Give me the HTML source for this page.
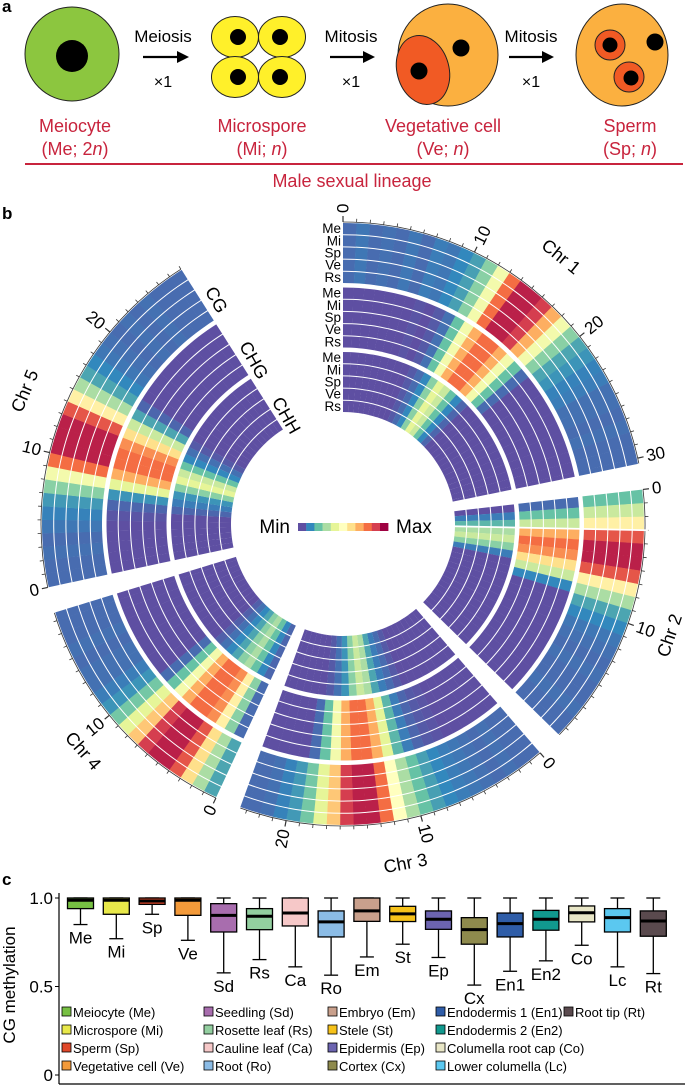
<!DOCTYPE html>
<html><head><meta charset="utf-8"><style>
body{margin:0;background:#fff;}
svg{display:block;font-family:"Liberation Sans","DejaVu Sans",sans-serif;}
</style></head><body>
<svg id="fig" width="685" height="1086" viewBox="0 0 685 1086" xmlns="http://www.w3.org/2000/svg">
<g>
<text x="2" y="12" font-size="17" font-weight="bold">a</text>
<ellipse cx="72" cy="54" rx="47" ry="47" fill="#8CC63F" stroke="#222" stroke-width="1"/>
<circle cx="72" cy="56" r="16" fill="#000"/>
<text x="163" y="42" font-size="17" text-anchor="middle">Meiosis</text>
<line x1="143" y1="57" x2="180" y2="57" stroke="#000" stroke-width="2.2"/><polygon points="189,57 177,51 177,63" fill="#000"/>
<text x="163" y="87" font-size="16" text-anchor="middle">×1</text>
<g>
<ellipse cx="235" cy="37" rx="23.5" ry="20.5" fill="#FFF02A" stroke="#222"/><ellipse cx="282" cy="37" rx="23.5" ry="20.5" fill="#FFF02A" stroke="#222"/>
<ellipse cx="235" cy="77" rx="23.5" ry="20.5" fill="#FFF02A" stroke="#222"/><ellipse cx="282" cy="77" rx="23.5" ry="20.5" fill="#FFF02A" stroke="#222"/>
<circle cx="238" cy="37" r="8" fill="#000"/><circle cx="280" cy="37" r="8" fill="#000"/><circle cx="238" cy="77" r="8" fill="#000"/><circle cx="280" cy="77" r="8" fill="#000"/>
</g>
<text x="351" y="42" font-size="17" text-anchor="middle">Mitosis</text>
<line x1="330" y1="57" x2="366" y2="57" stroke="#000" stroke-width="2.2"/><polygon points="375,57 363,51 363,63" fill="#000"/>
<text x="351" y="87" font-size="16" text-anchor="middle">×1</text>
<g>
<ellipse cx="448" cy="55" rx="50" ry="51" fill="#FBB040" stroke="#222"/>
<ellipse cx="423" cy="70" rx="26" ry="35" transform="rotate(-15 423 70)" fill="#F15A24" stroke="#222"/>
<circle cx="419" cy="71" r="8.5" fill="#000"/><circle cx="461" cy="48" r="8.5" fill="#000"/>
</g>
<text x="531" y="42" font-size="17" text-anchor="middle">Mitosis</text>
<line x1="509" y1="57" x2="545" y2="57" stroke="#000" stroke-width="2.2"/><polygon points="554,57 542,51 542,63" fill="#000"/>
<text x="531" y="87" font-size="16" text-anchor="middle">×1</text>
<g>
<ellipse cx="622" cy="55" rx="46" ry="51" fill="#FBB040" stroke="#222"/>
<circle cx="610" cy="45" r="15" fill="#F15A24" stroke="#222"/><circle cx="629" cy="77" r="15" fill="#F15A24" stroke="#222"/>
<circle cx="610" cy="45" r="7.5" fill="#000"/><circle cx="631" cy="78" r="7.5" fill="#000"/><circle cx="655" cy="42" r="8.5" fill="#000"/>
</g>
<g fill="#C8243D" font-size="18" text-anchor="middle">
<text x="75" y="132">Meiocyte</text><text x="75" y="155">(Me; 2<tspan font-style="italic">n</tspan>)</text>
<text x="262" y="132">Microspore</text><text x="262" y="155">(Mi; <tspan font-style="italic">n</tspan>)</text>
<text x="443" y="132">Vegetative cell</text><text x="443" y="155">(Ve; <tspan font-style="italic">n</tspan>)</text>
<text x="630" y="132">Sperm</text><text x="630" y="155">(Sp; <tspan font-style="italic">n</tspan>)</text>
</g>
<line x1="25" y1="164" x2="683" y2="164" stroke="#C8243D" stroke-width="2"/>
<text x="352" y="187" font-size="18" fill="#C8243D" text-anchor="middle">Male sexual lineage</text>
</g>
<text x="2" y="219" font-size="17" font-weight="bold">b</text>
<g id="circos"></g>
<text x="2" y="885" font-size="17" font-weight="bold">c</text>
<g id="boxplot"></g>
</svg>
<script>
// ---------- circos data ----------
const chromNames = ["Chr 1","Chr 2","Chr 3","Chr 4","Chr 5"];
const chromLengths = [30.4, 19.7, 23.5, 18.6, 27.0];
const sampleNames = ["Me","Mi","Sp","Ve","Rs"];
const contextNames = ["CG","CHG","CHH"];
const cgChr1 = [.05,.07,.05,.06,.05,.07,.05,.08,.07,.1,.14,.25,.45,.8,.95,.95,.9,.7,.45,.25,.15,.12,.09,.08,.06,.06,.05,.06,.05,.05,.05];
const cgChr2 = [.2,.35,.55,.85,.95,.95,.85,.55,.3,.15,.1,.07,.06,.05,.06,.05,.05,.06,.05,.05];
const cgChr3 = [.05,.05,.06,.05,.06,.07,.08,.1,.14,.2,.3,.5,.8,.95,.95,.9,.65,.4,.22,.13,.09,.06,.05,.05];
const cgChr4 = [.15,.3,.6,.85,.95,.95,.9,.65,.4,.22,.12,.08,.06,.06,.05,.06,.05,.05,.05];
const cgChr5 = [.05,.05,.06,.05,.07,.09,.13,.25,.45,.8,.95,.95,.95,.85,.55,.3,.15,.1,.07,.06,.05,.06,.05,.06,.05,.05,.05];
const chgChr1 = [0,0,0,0,0,0,0,.01,0,.02,.06,.2,.45,.7,.8,.8,.7,.45,.2,.05,0,0,0,0,0,0,0,0,0,0,0];
const chgChr2 = [.05,.2,.35,.7,.8,.75,.6,.35,.1,0,0,0,0,0,0,0,0,0,0,0];
const chgChr3 = [0,0,0,0,0,0,.01,.02,.04,.08,.18,.4,.7,.8,.8,.7,.45,.2,.05,0,0,0,0,0];
const chgChr4 = [.05,.25,.55,.75,.8,.8,.7,.45,.2,.05,0,0,0,0,0,0,0,0,0];
const chgChr5 = [0,0,0,0,0,.01,.04,.12,.4,.7,.8,.8,.75,.6,.35,.15,.04,0,0,0,0,0,0,0,0,0,0];
const chhChr1 = [0,0,0,0,0,0,0,0,0,.02,.05,.1,.25,.4,.35,.2,.1,.04,0,0,0,0,0,0,0,0,0,0,0,0,0];
const chhChr2 = [0,.08,.18,.3,.35,.25,.08,0,0,0,0,0,0,0,0,0,0,0,0,0];
const chhChr3 = [0,0,0,0,0,0,0,0,.02,.05,.08,.15,.3,.35,.25,.12,.06,.02,0,0,0,0,0,0];
const chhChr4 = [.04,.1,.2,.3,.25,.15,.1,.06,.03,0,0,0,0,0,0,0,0,0,0];
const chhChr5 = [0,0,0,0,0,0,.04,.08,.12,.25,.4,.35,.2,.1,.06,.02,0,0,0,0,0,0,0,0,0,0,0];
const tickLabelsMb = [0,10,20,30];
const spectral = ["#5E4FA2","#3288BD","#66C2A5","#ABDDA4","#E6F598","#FFFFBF","#FEE08B","#FDAE61","#F46D43","#D53E4F","#9E0142"];

// ---------- boxplot data ----------
const boxCats = ["Me","Mi","Sp","Ve","Sd","Rs","Ca","Ro","Em","St","Ep","Cx","En1","En2","Co","Lc","Rt"];
const boxFull = ["Meiocyte","Microspore","Sperm","Vegetative cell","Seedling","Rosette leaf","Cauline leaf","Root","Embryo","Stele","Epidermis","Cortex","Endodermis 1","Endodermis 2","Columella root cap","Lower columella","Root tip"];
const boxColors = ["#77C043","#E8E84A","#E0482A","#F39A3A","#A86DAE","#93CFA0","#F6C8C8","#8BBCE6","#C9A08C","#F6C21A","#6C64B0","#8E8A4D","#2F5DA8","#11998E","#E8E6C6","#5BC8F0","#5A4A4E"];
const whiskerHigh = [1,1,1,1,1,1,1,1,1,1,1,1,1,1,1,1,1];
const q3Vals = [1.0,1.0,1.0,1.0,.968,.94,1.0,.927,1.0,.953,.927,.889,.915,.93,.955,.94,.927];
const medianVals = [.987,.987,.983,.987,.902,.897,.915,.865,.927,.91,.88,.821,.855,.88,.917,.889,.87];
const q1Vals = [.94,.908,.964,.902,.808,.821,.842,.78,.868,.867,.823,.739,.78,.818,.865,.808,.784];
const whiskerLow = [.85,.77,.908,.761,.577,.652,.611,.564,.667,.739,.664,.508,.586,.645,.733,.611,.573];
const yTicks = [0, 0.5, 1.0];
const yTickLabels = ["0","0.5","1.0"];

const NS = "http://www.w3.org/2000/svg";
function mk(tag, attrs, parent){ const e=document.createElementNS(NS,tag); for(const k in attrs) e.setAttribute(k,attrs[k]); parent.appendChild(e); return e; }

(function(){
  const g = document.getElementById("circos");
  const cx=343, cy=524, degPerMb=2.58, gap=5;
  const cgArr=[cgChr1,cgChr2,cgChr3,cgChr4,cgChr5], chgArr=[chgChr1,chgChr2,chgChr3,chgChr4,chgChr5], chhArr=[chhChr1,chhChr2,chhChr3,chhChr4,chhChr5];
  const ctxData=[cgArr,chgArr,chhArr];
  const starts=[]; let a=0;
  chromLengths.forEach(L=>{ starts.push(a); a+=L*degPerMb+gap; });
  const angOf=(c,mb)=>starts[c]+mb*degPerMb;
  const pt=(ang,r)=>{const t=ang*Math.PI/180; return [cx+r*Math.sin(t), cy-r*Math.cos(t)];};
  function sector(a0,a1,r0,r1){
    const p1=pt(a0,r1),p2=pt(a1,r1),p3=pt(a1,r0),p4=pt(a0,r0), lg=(a1-a0)>180?1:0;
    return `M${p1[0]},${p1[1]}A${r1},${r1} 0 ${lg} 1 ${p2[0]},${p2[1]}L${p3[0]},${p3[1]}A${r0},${r0} 0 ${lg} 0 ${p4[0]},${p4[1]}Z`;
  }
  function color(v){ v=Math.max(0,Math.min(1,v)); const f=v*10, i=Math.min(9,Math.floor(f)), t=f-i;
    const h=s=>[parseInt(s.slice(1,3),16),parseInt(s.slice(3,5),16),parseInt(s.slice(5,7),16)];
    const c0=h(spectral[i]),c1=h(spectral[i+1]); return `rgb(${c0.map((x,k)=>Math.round(x+(c1[k]-x)*t)).join(",")})`; }
  const bandW=11.2, step=12.2, groupStep=64.5, R0=301;
  for(let c=0;c<5;c++){
    const cg=mk("g",{},g);
    
    
    for(let x=0;x<3;x++){
      const vals=ctxData[x][c];
      for(let s=0;s<5;s++){
        const rOut=R0-x*groupStep-s*step, rIn=rOut-bandW;
        vals.forEach((v,i)=>{
          const m0=i, m1=Math.min(i+1,chromLengths[c]);
          const p=mk("path",{d:sector(angOf(c,m0),angOf(c,m1)+0.05,rIn,rOut),fill:color(v)},cg);
          
          
        });
      }
    }
    const arc=mk("path",{d:(()=>{const p1=pt(angOf(c,0),302),p2=pt(angOf(c,chromLengths[c]),302);return `M${p1[0]},${p1[1]}A302,302 0 0 1 ${p2[0]},${p2[1]}`;})(),fill:"none",stroke:"#333","stroke-width":"0.8"},g);
    
    
    for(let mb=0;mb<=chromLengths[c];mb++){
      const maj=mb%10===0, an=angOf(c,mb), p1=pt(an,302), p2=pt(an,maj?308:305.5);
      const tk=mk("line",{x1:p1[0],y1:p1[1],x2:p2[0],y2:p2[1],stroke:"#333","stroke-width":maj?1.2:0.8},g);
      
      
    }
    tickLabelsMb.forEach(mb=>{
      if(mb>chromLengths[c]) return;
      const an=angOf(c,mb), p=pt(an,311);
      const right=an<180;
      const t=mk("text",{x:p[0],y:p[1],"font-size":"17","text-anchor":right?"start":"end","dominant-baseline":"central",transform:`rotate(${right?an-90:an-270} ${p[0]} ${p[1]})`},g);
      t.textContent=String(mb);
      
      
    });
    const mid=angOf(c,chromLengths[c]/2), lp=pt(mid,345);
    const rot = (mid>90 && mid<270) ? mid-180 : (mid>=270? mid-360: mid);
    const ct=mk("text",{x:lp[0],y:lp[1],"font-size":"18","text-anchor":"middle","dominant-baseline":"central",transform:`rotate(${rot} ${lp[0]} ${lp[1]})`},g);
    ct.textContent=chromNames[c];
    
    
  }
  const ga=angOf(1,3.0), q1=pt(ga,110), q2=pt(ga,305);
  const gl=mk("line",{x1:q1[0],y1:q1[1],x2:q2[0],y2:q2[1],stroke:"#fff","stroke-width":"1.8"},g);
  
  
  for(let x=0;x<3;x++) for(let s=0;s<5;s++){
    const rMid=R0-x*groupStep-s*step-bandW/2;
    const t=mk("text",{x:341,y:cy-rMid,"font-size":"13.5","text-anchor":"end","dominant-baseline":"central"},g);
    t.textContent=sampleNames[s];
    
    
  }
  const endA=angOf(4,chromLengths[4])+3;
  contextNames.forEach((n,x)=>{
    const rMid=R0-x*groupStep-30, p=pt(endA+ (x*0.8),rMid);
    const t=mk("text",{x:p[0],y:p[1],"font-size":"18","text-anchor":"start","dominant-baseline":"central",transform:`rotate(${endA-270} ${p[0]} ${p[1]})`},g);
    t.textContent=n;
    
    
  });
  const lt=mk("text",{x:290,y:533,"font-size":"19","text-anchor":"end"},g); lt.textContent="Min";
  
  
  spectral.forEach((col,i)=>{
    const r=mk("rect",{x:298+i*8.2,y:523,width:8.4,height:8,fill:col},g);
    
    
  });
  const mx=mk("text",{x:396,y:533,"font-size":"19"},g); mx.textContent="Max";
  
  
})();

(function(){
  const g=document.getElementById("boxplot");
  const y=v=>1075-v*177, xc=i=>80.5+i*35.8, bw=26;
  const ax=mk("line",{x1:59,y1:893,x2:59,y2:1084,stroke:"#000","stroke-width":"1.2"},g);
  
  
  const xa=mk("line",{x1:59,y1:1084,x2:685,y2:1084,stroke:"#000","stroke-width":"1.2"},g);
  
  
  yTicks.forEach((v,i)=>{
    const tk=mk("line",{x1:55,y1:y(v),x2:59,y2:y(v),stroke:"#000"},g);
    
    
    const t=mk("text",{x:53,y:y(v)+6,"font-size":"17","text-anchor":"end"},g); t.textContent=yTickLabels[i];
    
    
  });
  const yt=mk("text",{x:0,y:0,"font-size":"17","text-anchor":"middle",transform:"translate(15 985) rotate(-90)"},g);
  yt.textContent="CG methylation";
  
  
  boxCats.forEach((c,i)=>{
    const bg=mk("g",{},g);
    
    
    const x=xc(i);
    mk("line",{x1:x,y1:y(q1Vals[i]),x2:x,y2:y(whiskerLow[i]),stroke:"#000","stroke-width":"1.3"},bg);
    mk("line",{x1:x,y1:y(q3Vals[i]),x2:x,y2:y(whiskerHigh[i]),stroke:"#000","stroke-width":"1.3"},bg);
    mk("line",{x1:x-7,y1:y(whiskerLow[i]),x2:x+7,y2:y(whiskerLow[i]),stroke:"#000","stroke-width":"1.3"},bg);
    mk("line",{x1:x-7,y1:y(whiskerHigh[i]),x2:x+7,y2:y(whiskerHigh[i]),stroke:"#000","stroke-width":"1.3"},bg);
    mk("rect",{x:x-bw/2,y:y(q3Vals[i]),width:bw,height:Math.max(1,y(q1Vals[i])-y(q3Vals[i])),fill:boxColors[i],stroke:"#000","stroke-width":"1.3"},bg);
    mk("line",{x1:x-bw/2,y1:y(medianVals[i]),x2:x+bw/2,y2:y(medianVals[i]),stroke:"#000","stroke-width":"3"},bg);
    const t=mk("text",{x:x,y:y(whiskerLow[i])+19,"font-size":"17","text-anchor":"middle"},bg); t.textContent=c;
    
    
  });
  const colX=[62,204,328,436,564];
  boxCats.forEach((c,i)=>{
    const col=Math.floor(i/4), row=i%4;
    const lx=colX[col], ly=1017+row*18;
    const lg=mk("g",{},g);
    
    
    mk("rect",{x:lx,y:ly-10,width:9,height:9,fill:boxColors[i],stroke:"#000","stroke-width":"0.8"},lg);
    const t=mk("text",{x:lx+11,y:ly,"font-size":"13"},lg); t.textContent=boxFull[i]+" ("+c+")";
  });
})();
</script>
</body></html>
